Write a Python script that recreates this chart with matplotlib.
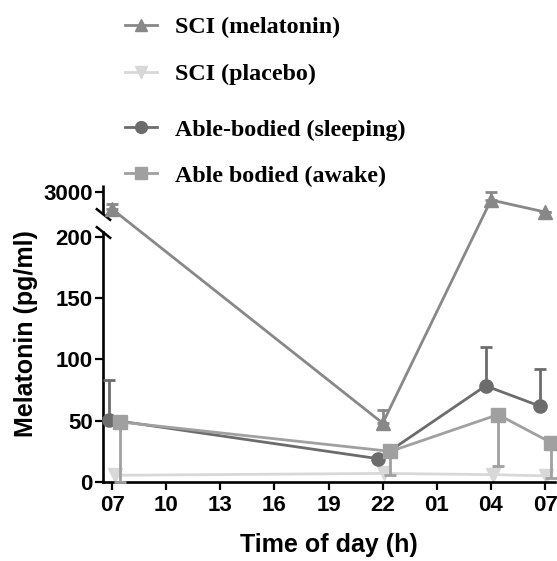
import numpy as np
import matplotlib
matplotlib.use("Agg")
import matplotlib.pyplot as plt
from matplotlib.lines import Line2D

plt.rcParams['font.family'] = ['Liberation Sans', 'DejaVu Sans']

# hours after 07:00
tick_pos = [0, 3, 6, 9, 12, 15, 18, 21, 24]
tick_lab = ['07', '10', '13', '16', '19', '22', '01', '04', '07']

# SCI (melatonin)
mel_x = [0.0, 15.0, 21.0, 24.0]
mel_y = [2521, 48, 2776, 2436]
mel_up = [140, 11, 225, 0]

# SCI (placebo)
pla_x = [0.19, 15.09, 21.1, 24.07]
pla_y = [5.5, 7, 6, 5]

# Able-bodied (sleeping)
slp_x = [-0.19, 14.76, 20.7, 23.7]
slp_y = [51, 19, 78.5, 62]
slp_up = [32, 0, 31.5, 30]

# Able bodied (awake)
awk_x = [0.46, 15.43, 21.39, 24.35]
awk_y = [49, 25, 55, 32]
awk_dn = [49, 19, 42, 28.5]

# broken y axis: 0-204 linear, then 2380-3200 squeezed
LO_TOP = 204
HI_BOT = 2380
GAP = 14.7
K = 0.02887


def fwd(y):
    y = np.asarray(y, dtype=float)
    mid = LO_TOP + (y - LO_TOP) * GAP / (HI_BOT - LO_TOP)
    hi = LO_TOP + GAP + (y - HI_BOT) * K
    return np.where(y <= LO_TOP, y, np.where(y < HI_BOT, mid, hi))


def inv(z):
    z = np.asarray(z, dtype=float)
    mid = LO_TOP + (z - LO_TOP) * (HI_BOT - LO_TOP) / GAP
    hi = HI_BOT + (z - LO_TOP - GAP) / K
    return np.where(z <= LO_TOP, z, np.where(z < LO_TOP + GAP, mid, hi))


c_mel = '#888888'
c_pla = '#d8d8d8'
c_slp = '#6c6c6c'
c_awk = '#a0a0a0'

fig = plt.figure(figsize=(5.57, 5.61), dpi=100)
ax = fig.add_axes([0.185, 0.1408, 0.8115, 0.5294])
ax.set_yscale('function', functions=(fwd, inv))

lw = 2.0
ms = 9.5
cap = 4

ax.errorbar(mel_x, mel_y, yerr=[[0] * 4, mel_up], color=c_mel, marker='^', ms=ms,
            lw=lw, elinewidth=lw, capsize=cap, capthick=lw, clip_on=False, zorder=3)
ax.errorbar(pla_x, pla_y, color=c_pla, marker='v', ms=ms, lw=lw,
            clip_on=False, zorder=2)
ax.errorbar(slp_x, slp_y, yerr=[[0] * 4, slp_up], color=c_slp, marker='o', ms=ms,
            lw=lw, elinewidth=lw, capsize=cap, capthick=lw, clip_on=False, zorder=4)
ax.errorbar(awk_x, awk_y, yerr=[awk_dn, [0] * 4], color=c_awk, marker='s', ms=ms,
            lw=lw, elinewidth=lw, capsize=cap, capthick=lw, clip_on=False, zorder=5)

ax.set_xlim(-0.5, 24.55)
ax.set_ylim(0, 3200)
ax.set_xticks(tick_pos)
ax.set_xticklabels(tick_lab, fontweight='bold')
ax.set_yticks([0, 50, 100, 150, 200, 3000])
ax.set_yticklabels(['0', '50', '100', '150', '200', '3000'], fontweight='bold')
ax.minorticks_off()

for s in ['top', 'right']:
    ax.spines[s].set_visible(False)
ax.spines['left'].set_linewidth(1.9)
ax.spines['bottom'].set_linewidth(1.9)
ax.spines['left'].set_bounds(0, LO_TOP)
ax.tick_params(axis='both', direction='out', length=5.5, width=1.6,
               labelsize=16)
ax.tick_params(axis='x', pad=4)
ax.tick_params(axis='y', pad=2)

# upper segment of the y axis and break marks
ax.plot([-0.5, -0.5], [HI_BOT, 3200], color='k', lw=1.9, clip_on=False,
        solid_capstyle='butt')
for yb in [LO_TOP, HI_BOT]:
    ax.plot([-0.5], [yb], marker=[(-1, 0.8), (1, -0.8)], ms=11, mew=1.8,
            color='k', clip_on=False)

ax.set_xlabel('Time of day (h)', fontsize=18, fontweight='bold', labelpad=12)
ax.set_ylabel('Melatonin (pg/ml)', fontsize=18, fontweight='bold', labelpad=4)

leg_font = {'family': 'Liberation Serif', 'weight': 'bold', 'size': 17.3}
h_mel = Line2D([], [], color=c_mel, marker='^', ms=8.5, lw=lw)
h_pla = Line2D([], [], color=c_pla, marker='v', ms=8.5, lw=lw)
h_slp = Line2D([], [], color=c_slp, marker='o', ms=8.5, lw=lw)
h_awk = Line2D([], [], color=c_awk, marker='s', ms=8.5, lw=lw)

fig.legend([h_mel, h_pla], ['SCI (melatonin)', 'SCI (placebo)'], loc='upper left',
           bbox_to_anchor=(0.224, 0.971), frameon=False, prop=leg_font,
           borderpad=0, borderaxespad=0, handlelength=1.35, handletextpad=0.75,
           labelspacing=1.05)
fig.legend([h_slp, h_awk], ['Able-bodied (sleeping)', 'Able bodied (awake)'],
           loc='upper left', bbox_to_anchor=(0.224, 0.788), frameon=False,
           prop=leg_font, borderpad=0, borderaxespad=0, handlelength=1.35,
           handletextpad=0.75, labelspacing=1.0)

fig.savefig('out.png', dpi=100)
